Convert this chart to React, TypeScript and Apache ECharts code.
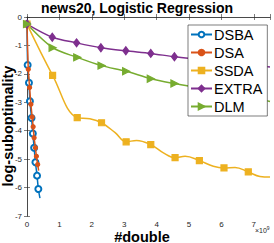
import React, { useEffect, useRef } from "react";
import * as echarts from "echarts";

const seriesNames = ["DSBA", "DSA", "SSDA", "EXTRA", "DLM"];
const colors = ["#0072BD", "#D95319", "#EDB120", "#7E2F8E", "#77AC30"];

const dsbaX = [0, 0.02, 0.06, 0.09, 0.14, 0.18, 0.22, 0.26, 0.31, 0.35, 0.4];
const dsbaY = [-0.25, -1.69, -2.31, -2.96, -3.55, -4.1, -4.6, -5.11, -5.58, -6.05, -6.37];
const dsbaMark = [1, 1, 1, 1, 1, 1, 1, 1, 1, 1, 0];

const dsaX = [0, 0.04, 0.08, 0.12, 0.16, 0.19, 0.22, 0.26, 0.29, 0.33, 0.36];
const dsaY = [-0.25, -1.84, -2.48, -3.07, -3.52, -3.86, -4.25, -4.6, -4.9, -5.19, -5.4];
const dsaMark = [1, 1, 1, 1, 1, 1, 1, 1, 1, 1, 0];

const ssdaX = [0, 0.79, 1.55, 1.94, 2.3, 2.72, 3.06, 3.38, 3.82, 4.21, 4.57, 4.88, 5.32, 5.75, 6.08, 6.42, 6.83, 7.19, 7.5];
const ssdaY = [-0.25, -2.05, -3.54, -3.58, -3.72, -4.07, -4.39, -4.34, -4.49, -4.78, -4.95, -4.9, -5.05, -5.25, -5.31, -5.29, -5.45, -5.61, -5.63];
const ssdaMark = [1, 1, 1, 0, 1, 0, 1, 0, 1, 0, 1, 0, 1, 0, 1, 0, 1, 0, 0];

const extraX = [0, 0.78, 1.53, 2.28, 3.05, 3.82, 4.55, 5.3, 6.05, 6.8, 7.5];
const extraY = [-0.25, -0.71, -0.91, -1.08, -1.19, -1.28, -1.4, -1.49, -1.58, -1.67, -1.76];
const extraMark = [1, 1, 1, 1, 1, 1, 1, 1, 1, 1, 0];

const dlmX = [0, 0.79, 1.55, 2.3, 3.06, 3.82, 4.55, 5.3, 6.05, 6.8, 7.5];
const dlmY = [-0.25, -1.08, -1.42, -1.71, -1.91, -2.17, -2.34, -2.49, -2.64, -2.8, -2.97];
const dlmMark = [1, 1, 1, 1, 1, 1, 1, 1, 1, 1, 0];

const xTicks = [0, 1, 2, 3, 4, 5, 6, 7];
const yTicks = [-7, -6, -5, -4, -3, -2, -1, 0];

const FONT = "'Liberation Sans', Arial, Helvetica, sans-serif";
const AX = "#262626";

function pts(xs: number[], ys: number[], mark: number[]) {
  return xs.map((x, i) =>
    mark[i] ? { value: [x, ys[i]] } : { value: [x, ys[i]], symbol: "none" }
  );
}

export default function App() {
  const ref = useRef<HTMLDivElement>(null);
  useEffect(() => {
    if (!ref.current) return;
    const chart = echarts.init(ref.current, null, { renderer: "svg" });
    const xMin = xTicks[0];
    const yMin = yTicks[0];
    const yMax = yTicks[yTicks.length - 1];
    const baseAxis = {
      axisLine: { show: true, lineStyle: { color: AX, width: 0.6 } },
      axisTick: { show: true, inside: true, length: 3, lineStyle: { color: AX, width: 0.6 } },
      splitLine: { show: false },
    };
    const lineSeries = (
      name: string,
      color: string,
      data: any[],
      symbol: string,
      symbolSize: any,
      extra: any = {}
    ) => ({
      name,
      type: "line",
      data,
      symbol,
      symbolSize,
      showAllSymbol: true,
      smooth: 0.3,
      clip: true,
      lineStyle: { color, width: 1.5 },
      itemStyle: { color, borderColor: color, borderWidth: 1.2 },
      ...extra,
    });
    chart.setOption({
      animation: false,
      textStyle: { fontFamily: FONT },
      grid: { left: 27, right: 4, top: 17, bottom: 27, containLabel: false },
      xAxis: [
        {
          ...baseAxis,
          type: "value",
          min: xMin,
          max: 7.5,
          interval: 1,
          position: "bottom",
          axisLabel: {
            show: true,
            fontSize: 8,
            color: AX,
            margin: 4,
            fontFamily: FONT,
            formatter: (v: number) => (Number.isInteger(v) ? String(v) : ""),
          },
        },
        {
          ...baseAxis,
          type: "value",
          min: xMin,
          max: 7.5,
          interval: 1,
          position: "top",
          axisLabel: { show: false },
        },
      ],
      yAxis: [
        {
          ...baseAxis,
          type: "value",
          min: yMin,
          max: yMax,
          interval: 1,
          position: "left",
          axisLabel: { show: true, fontSize: 8, color: AX, margin: 5, fontFamily: FONT },
        },
        {
          ...baseAxis,
          type: "value",
          min: yMin,
          max: yMax,
          interval: 1,
          position: "right",
          axisLabel: { show: false },
        },
      ],
      legend: {
        data: seriesNames,
        orient: "vertical",
        left: 188,
        top: 25,
        padding: [2, 5, 2, 2],
        itemGap: 3,
        itemWidth: 21,
        itemHeight: 7,
        backgroundColor: "#ffffff",
        borderColor: AX,
        borderWidth: 0.6,
        textStyle: {
          fontSize: 14.5,
          lineHeight: 15,
          color: "#000",
          fontFamily: FONT,
          padding: [0, 0, 0, -3],
        },
      },
      graphic: [
        {
          type: "text",
          x: 137,
          y: 7.5,
          style: {
            text: "news20, Logistic Regression",
            font: `bold 14px ${FONT}`,
            fill: "#000",
            textAlign: "center",
            textVerticalAlign: "middle",
          },
        },
        {
          type: "text",
          x: 142,
          y: 236.5,
          style: {
            text: "#double",
            font: `bold 14.5px ${FONT}`,
            fill: "#000",
            textAlign: "center",
            textVerticalAlign: "middle",
          },
        },
        {
          type: "text",
          x: 8,
          y: 126,
          rotation: Math.PI / 2,
          style: {
            text: "log-suboptimality",
            font: `bold 14.5px ${FONT}`,
            fill: "#000",
            textAlign: "center",
            textVerticalAlign: "middle",
          },
        },
        {
          type: "text",
          x: 255,
          y: 230,
          style: {
            text: "×10{s|9}",
            font: `7px ${FONT}`,
            fill: AX,
            textVerticalAlign: "middle",
            rich: { s: { fontSize: 5, fill: AX, verticalAlign: "top", padding: [0, 0, 4, 0] } },
          } as any,
        },
      ],
      series: [
        lineSeries(seriesNames[0], colors[0], pts(dsbaX, dsbaY, dsbaMark), "emptyCircle", 6, {
          itemStyle: { color: colors[0], borderColor: colors[0], borderWidth: 1.3 },
          z: 2,
        }),
        lineSeries(seriesNames[1], colors[1], pts(dsaX, dsaY, dsaMark), "circle", 4, { z: 3 }),
        lineSeries(seriesNames[2], colors[2], pts(ssdaX, ssdaY, ssdaMark), "rect", 6, { smooth: 0.4 }),
        lineSeries(seriesNames[3], colors[3], pts(extraX, extraY, extraMark), "diamond", [6, 8]),
        lineSeries(seriesNames[4], colors[4], pts(dlmX, dlmY, dlmMark), "triangle", 7, {
          symbolRotate: -90,
        }),
      ],
    });
    return () => chart.dispose();
  }, []);
  return <div ref={ref} style={{ width: 274, height: 243, position: "absolute", left: 0, top: 0 }} />;
}
